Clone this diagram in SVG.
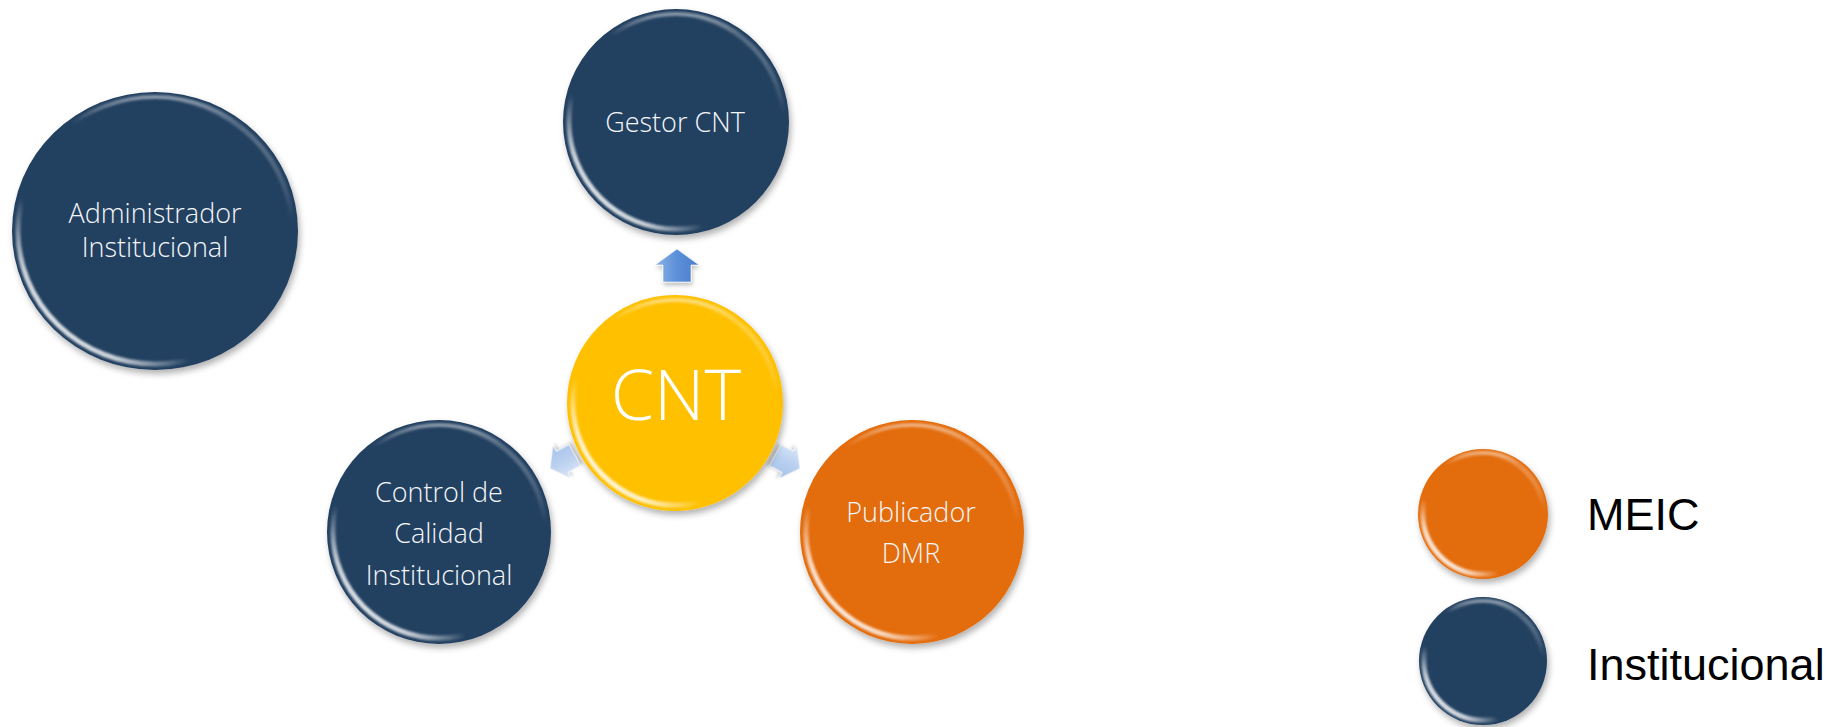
<svg xmlns="http://www.w3.org/2000/svg" width="1828" height="727" viewBox="0 0 1828 727">
<style>
.lbl{font-family:"Open Sans","Segoe UI","Liberation Sans",sans-serif;font-weight:300;fill:#F4F6F9;text-anchor:middle;font-size:27px}
.big{font-size:70px;fill:#FFFFFF}
.leg{font-family:"Liberation Sans","Open Sans",sans-serif;fill:#000000;font-size:45px}
.rim{fill:none;stroke:url(#rimG);stroke-width:5}
.top{fill:none;stroke:url(#topG);stroke-width:4}
.arr{stroke:#ffffff;stroke-opacity:0.6;stroke-width:1}
</style>
<defs>
<filter id="sh" x="-20%" y="-20%" width="140%" height="140%">
<feDropShadow dx="2" dy="4" stdDeviation="3" flood-color="#000000" flood-opacity="0.3"/>
</filter>
<filter id="sh2" x="-40%" y="-40%" width="180%" height="180%">
<feDropShadow dx="1" dy="3" stdDeviation="2" flood-color="#000000" flood-opacity="0.25"/>
</filter>
<filter id="blur1"><feGaussianBlur stdDeviation="1"/></filter>
<linearGradient id="rimG" x1="0.05" y1="0.95" x2="0.95" y2="0.05">
<stop offset="0" stop-color="#ffffff" stop-opacity="1"/>
<stop offset="0.15" stop-color="#ffffff" stop-opacity="0.75"/>
<stop offset="0.3" stop-color="#ffffff" stop-opacity="0"/>
<stop offset="0.8" stop-color="#ffffff" stop-opacity="0"/>
<stop offset="1" stop-color="#ffffff" stop-opacity="0.5"/>
</linearGradient>
<linearGradient id="topG" x1="0" y1="0" x2="0" y2="1">
<stop offset="0" stop-color="#ffffff" stop-opacity="0.45"/>
<stop offset="0.1" stop-color="#ffffff" stop-opacity="0"/>
<stop offset="1" stop-color="#ffffff" stop-opacity="0"/>
</linearGradient>
<linearGradient id="upG" x1="0" y1="0" x2="1" y2="0">
<stop offset="0" stop-color="#8DB3E6"/>
<stop offset="0.5" stop-color="#5B8FD9"/>
<stop offset="1" stop-color="#4A7FCC"/>
</linearGradient>
<linearGradient id="sideG" x1="0" y1="0" x2="1" y2="0">
<stop offset="0" stop-color="#DCE8F8"/>
<stop offset="0.5" stop-color="#B9D0F0"/>
<stop offset="1" stop-color="#A6C3EA"/>
</linearGradient>
<path id="arrowShape" d="M0,-16 L22,0 L14,0 L14,17 L-14,17 L-14,0 L-22,0 Z"/>
</defs>

<g id="connectors">
<g transform="translate(677,265)"><use href="#arrowShape" fill="url(#upG)" class="arr" filter="url(#sh2)"/></g>
<g transform="translate(562,462) rotate(-118.6) scale(0.85)"><use href="#arrowShape" fill="url(#sideG)" class="arr" filter="url(#sh2)"/></g>
<g transform="translate(788,462) rotate(118.6) scale(0.85)"><use href="#arrowShape" fill="url(#sideG)" class="arr" filter="url(#sh2)"/></g>
</g>

<g id="node-admin">
<ellipse cx="155" cy="231" rx="143" ry="139" fill="#243F60" filter="url(#sh)"/>
<ellipse cx="155" cy="231" rx="137" ry="133" class="rim" filter="url(#blur1)"/>
<ellipse cx="155" cy="231" rx="138" ry="134" class="top" filter="url(#blur1)"/>
<text class="lbl" x="155" y="223">Administrador</text>
<text class="lbl" x="155" y="257">Institucional</text>
</g>

<g id="node-gestor">
<circle cx="676" cy="122" r="113" fill="#243F60" filter="url(#sh)"/>
<circle cx="676" cy="122" r="107" class="rim" filter="url(#blur1)"/>
<circle cx="676" cy="122" r="108" class="top" filter="url(#blur1)"/>
<text class="lbl" x="675" y="132">Gestor CNT</text>
</g>

<g id="node-cnt">
<circle cx="675" cy="403" r="108" fill="#FFC000" filter="url(#sh)"/>
<circle cx="675" cy="403" r="102" class="rim" filter="url(#blur1)"/>
<circle cx="675" cy="403" r="103" class="top" filter="url(#blur1)"/>
<text class="lbl big" x="676" y="420">CNT</text>
</g>

<g id="node-control">
<circle cx="439" cy="532" r="112" fill="#243F60" filter="url(#sh)"/>
<circle cx="439" cy="532" r="106" class="rim" filter="url(#blur1)"/>
<circle cx="439" cy="532" r="107" class="top" filter="url(#blur1)"/>
<text class="lbl" x="439" y="502">Control de</text>
<text class="lbl" x="439" y="543">Calidad</text>
<text class="lbl" x="439" y="585">Institucional</text>
</g>

<g id="node-publicador">
<circle cx="912" cy="532" r="112" fill="#E36C0A" filter="url(#sh)"/>
<circle cx="912" cy="532" r="106" class="rim" filter="url(#blur1)"/>
<circle cx="912" cy="532" r="107" class="top" filter="url(#blur1)"/>
<text class="lbl" x="911" y="522">Publicador</text>
<text class="lbl" x="911" y="563">DMR</text>
</g>

<g id="legend-meic">
<circle cx="1483" cy="514" r="65" fill="#E36C0A" filter="url(#sh)"/>
<circle cx="1483" cy="514" r="60" class="rim" filter="url(#blur1)"/>
<circle cx="1483" cy="514" r="61" class="top" filter="url(#blur1)"/>
<text class="leg" x="1587" y="530">MEIC</text>
</g>

<g id="legend-inst">
<circle cx="1483" cy="661" r="64" fill="#243F60" filter="url(#sh)"/>
<circle cx="1483" cy="661" r="59" class="rim" filter="url(#blur1)"/>
<circle cx="1483" cy="661" r="60" class="top" filter="url(#blur1)"/>
<text class="leg" x="1587" y="680">Institucional</text>
</g>
</svg>
